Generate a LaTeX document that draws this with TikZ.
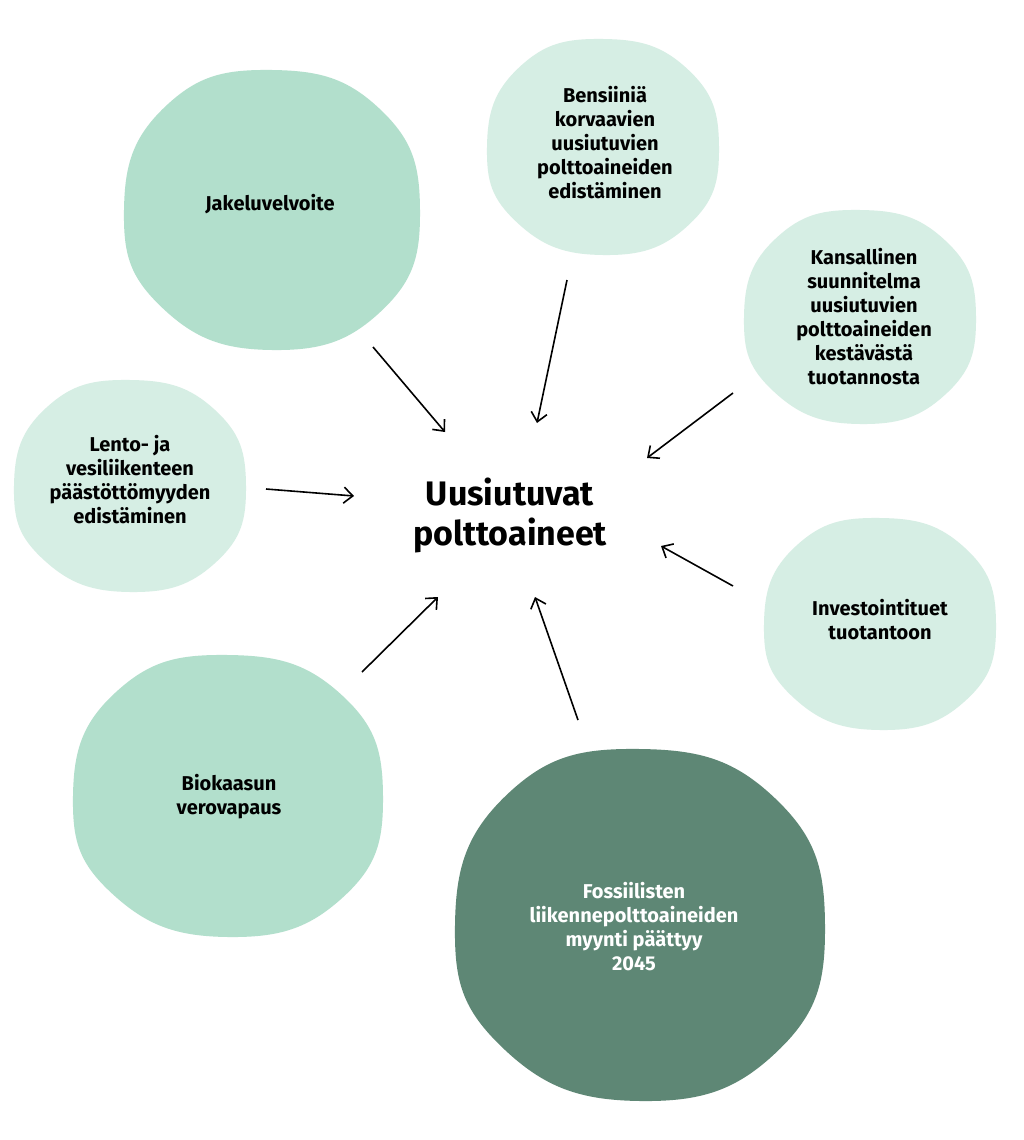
\documentclass[tikz,border=0pt]{standalone}
\usepackage{fontspec}
\setmainfont{Fira Sans}
\usetikzlibrary{arrows.meta}
\definecolor{mint}{HTML}{B2DFCC}
\definecolor{pale}{HTML}{D6EEE4}
\definecolor{deep}{HTML}{5E8775}
\newcommand{\myblob}[5]{%
  \fill[#5] plot[smooth cycle,tension=0.8] coordinates{
    ({#1+#3},{#2}) ({#1+0.74*#3},{#2+0.72*#4}) ({#1},{#2+#4}) ({#1-0.74*#3},{#2+0.70*#4})
    ({#1-#3},{#2}) ({#1-0.72*#3},{#2-0.74*#4}) ({#1},{#2-#4}) ({#1+0.73*#3},{#2-0.72*#4})};}
\tikzset{lbl/.style={font=\bfseries\fontsize{20}{24}\selectfont,align=center,text=black},
  arr/.style={-{Straight Barb[length=9pt,width=16pt]},line width=1.6pt,black}}
\begin{document}
\begin{tikzpicture}[x=1pt,y=-1pt]
\useasboundingbox[fill=white] (0,0) rectangle (1024,1140);
\myblob{272}{210}{148}{140}{mint}
\myblob{603}{147}{116}{108}{pale}
\myblob{860}{317}{116}{107}{pale}
\myblob{130}{486}{116}{106}{pale}
\myblob{880}{624}{116}{106}{pale}
\myblob{228}{796}{155}{141}{mint}
\myblob{640}{925}{185}{176}{deep}
\node[lbl] (j) at (270,204) {Jakeluvelvoite};
\node[lbl] (b) at (605,143) {Bensiiniä\\korvaavien\\uusiutuvien\\polttoaineiden\\edistäminen};
\node[lbl] (k) at (864,317) {Kansallinen\\suunnitelma\\uusiutuvien\\polttoaineiden\\kestävästä\\tuotannosta};
\node[lbl] (l) at (130,480) {Lento- ja\\vesiliikenteen\\päästöttömyyden\\edistäminen};
\node[lbl] (i) at (880,620) {Investointituet\\tuotantoon};
\node[lbl] (bk) at (229,797) {Biokaasun\\verovapaus};
\node[lbl,text=white] (f) at (634,927) {Fossiilisten\\liikennepolttoaineiden\\myynti päättyy\\2045};
\node[font=\bfseries\fontsize{34}{40}\selectfont,align=center] (c) at (510,515) {Uusiutuvat\\polttoaineet};
\coordinate (t1) at (373,347); \coordinate (h1) at (445,432);
\coordinate (t2) at (567,280); \coordinate (h2) at (537,423);
\coordinate (t3) at (733,393); \coordinate (h3) at (647,458);
\coordinate (t4) at (266,489); \coordinate (h4) at (354,496);
\coordinate (t5) at (733,586); \coordinate (h5) at (661,546);
\coordinate (t6) at (362,672); \coordinate (h6) at (438,597);
\coordinate (t7) at (578,720); \coordinate (h7) at (535,597);
\foreach \n in {1,...,7}{\draw[arr] (t\n) -- (h\n);}
\end{tikzpicture}
\end{document}
